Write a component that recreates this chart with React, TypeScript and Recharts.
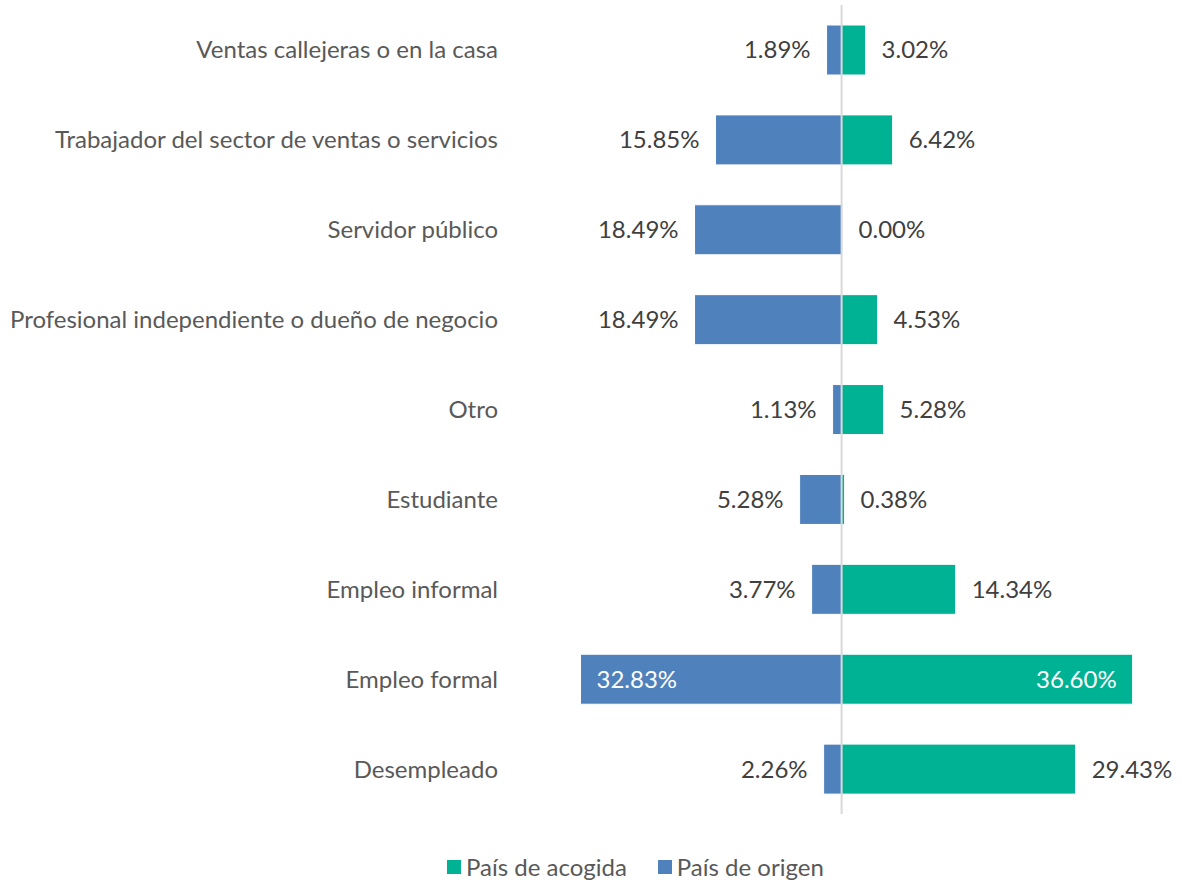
import React from 'react';
import { BarChart, Bar, XAxis, YAxis, ReferenceLine, LabelList, Legend } from 'recharts';

const categories = [
  'Ventas callejeras o en la casa',
  'Trabajador del sector de ventas o servicios',
  'Servidor público',
  'Profesional independiente o dueño de negocio',
  'Otro',
  'Estudiante',
  'Empleo informal',
  'Empleo formal',
  'Desempleado',
];
const origen = [1.89, 15.85, 18.49, 18.49, 1.13, 5.28, 3.77, 32.83, 2.26];
const acogida = [3.02, 6.42, 0.0, 4.53, 5.28, 0.38, 14.34, 36.6, 29.43];

const BLUE = '#4F81BD';
const TEAL = '#00B294';
const FONT = 'Lato, "Open Sans", sans-serif';
const FS = 24;

const data = categories.map((name, i) => ({
  name,
  origen: -origen[i],
  acogida: acogida[i],
}));

const fmt = (v: number) => `${Math.abs(v).toFixed(2)}%`;

const OrigenLabel = (props: any) => {
  const { x, y, width, height, value } = props;
  const left = Math.min(x, x + width);
  const cy = y + height / 2;
  const inside = Math.abs(value) > 30;
  return (
    <text
      x={inside ? left + 16 : left - 16}
      y={cy}
      dy="0.35em"
      textAnchor={inside ? 'start' : 'end'}
      fill={inside ? '#ffffff' : '#404040'}
      fontSize={FS}
      fontFamily={FONT}
    >
      {fmt(value)}
    </text>
  );
};

const AcogidaLabel = (props: any) => {
  const { x, y, width, height, value } = props;
  const right = Math.max(x, x + width);
  const cy = y + height / 2;
  const inside = Math.abs(value) > 30;
  return (
    <text
      x={inside ? right - 16 : right + 16}
      y={cy}
      dy="0.35em"
      textAnchor={inside ? 'end' : 'start'}
      fill={inside ? '#ffffff' : '#404040'}
      fontSize={FS}
      fontFamily={FONT}
    >
      {fmt(value)}
    </text>
  );
};

const legendItems = [
  { label: 'País de acogida', color: TEAL },
  { label: 'País de origen', color: BLUE },
];

const renderLegend = () => (
  <div style={{ display: 'flex', alignItems: 'center', fontFamily: FONT, fontSize: FS, color: '#595959' }}>
    {legendItems.map((it) => (
      <div key={it.label} style={{ display: 'flex', alignItems: 'center', marginRight: 31 }}>
        <span style={{ display: 'inline-block', width: 14, height: 14, background: it.color, marginRight: 5 }} />
        <span>{it.label}</span>
      </div>
    ))}
  </div>
);

export default function App() {
  return (
    <div style={{ position: 'absolute', left: 0, top: 0, background: '#fff' }}>
      <BarChart
        width={1182}
        height={883}
        data={data}
        layout="vertical"
        stackOffset="sign"
        barSize={50}
        margin={{ top: 5, right: 8, bottom: 40, left: 0 }}
        style={{ fontFamily: FONT }}
      >
        <XAxis type="number" domain={[-42.2, 41.8]} hide />
        <YAxis
          type="category"
          dataKey="name"
          width={506}
          axisLine={false}
          tickLine={false}
          interval={0}
          tick={{ fill: '#595959', fontSize: FS, fontFamily: FONT }}
        />
        <Bar dataKey="origen" stackId="a" fill={BLUE} stroke="#ffffff" strokeWidth={1} isAnimationActive={false}>
          <LabelList dataKey="origen" content={OrigenLabel} />
        </Bar>
        <Bar dataKey="acogida" stackId="a" fill={TEAL} stroke="#ffffff" strokeWidth={1} minPointSize={1} isAnimationActive={false}>
          <LabelList dataKey="acogida" content={AcogidaLabel} />
        </Bar>
        <ReferenceLine x={0} stroke="#D9D9D9" strokeWidth={2} />
        <Legend
          content={renderLegend}
          wrapperStyle={{ left: 447, top: 852, width: 'auto' }}
        />
      </BarChart>
    </div>
  );
}
